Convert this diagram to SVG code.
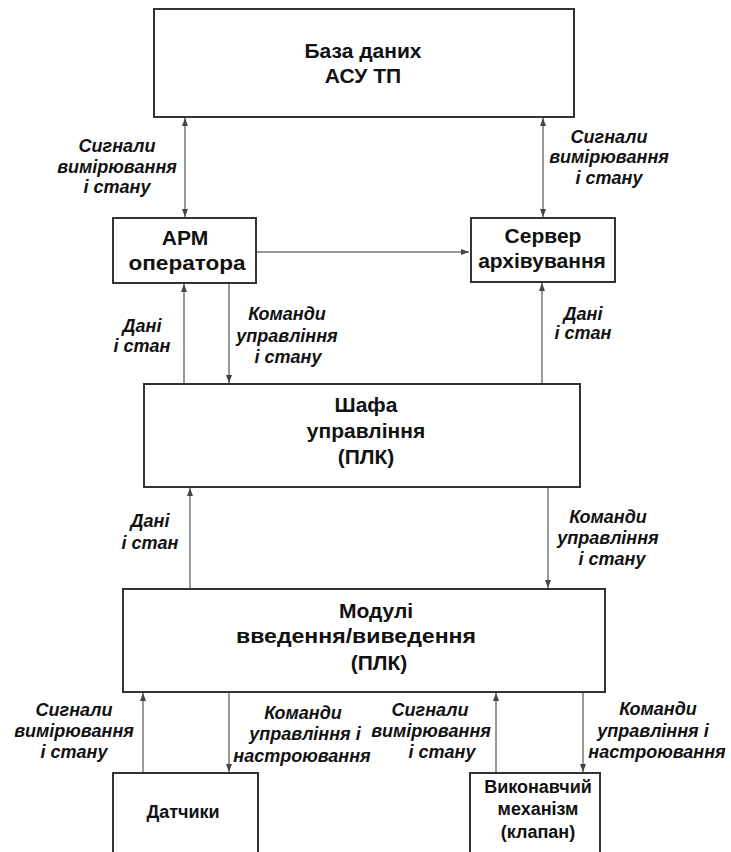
<svg xmlns="http://www.w3.org/2000/svg" width="731" height="852" viewBox="0 0 731 852">
<style>
.box{fill:#fff;stroke:#333;stroke-width:2}
.nt{font-family:"Liberation Sans",Arial,sans-serif;font-weight:bold;font-size:21px;fill:#111;text-anchor:middle}
.ns{font-size:18px}
.lb{font-family:"Liberation Sans",Arial,sans-serif;font-weight:bold;font-style:italic;font-size:18px;fill:#111;text-anchor:middle}
.ln{stroke:#777;stroke-width:1.5;fill:none}
</style>
<defs>
<marker id="ah" markerWidth="8" markerHeight="6" refX="8" refY="3" orient="auto-start-reverse" markerUnits="userSpaceOnUse">
<path d="M0,0 L8,3 L0,6 z" fill="#444"/>
</marker>
</defs>
<rect width="731" height="852" fill="#fff"/>
<g id="connectors">
<line class="ln" x1="185" y1="118" x2="185" y2="217" marker-start="url(#ah)" marker-end="url(#ah)"/>
<line class="ln" x1="543" y1="118" x2="543" y2="217" marker-start="url(#ah)" marker-end="url(#ah)"/>
<line class="ln" x1="257" y1="252" x2="469" y2="252" marker-end="url(#ah)"/>
<line class="ln" x1="184" y1="383" x2="184" y2="284" marker-end="url(#ah)"/>
<line class="ln" x1="229" y1="284" x2="229" y2="383" marker-end="url(#ah)"/>
<line class="ln" x1="542" y1="383" x2="542" y2="283" marker-end="url(#ah)"/>
<line class="ln" x1="190" y1="588" x2="190" y2="488" marker-end="url(#ah)"/>
<line class="ln" x1="548" y1="488" x2="548" y2="588" marker-end="url(#ah)"/>
<line class="ln" x1="143" y1="772" x2="143" y2="693" marker-end="url(#ah)"/>
<line class="ln" x1="229" y1="693" x2="229" y2="772" marker-end="url(#ah)"/>
<line class="ln" x1="496" y1="772" x2="496" y2="693" marker-end="url(#ah)"/>
<line class="ln" x1="583" y1="693" x2="583" y2="772" marker-end="url(#ah)"/>
</g>
<g id="labels">
<text class="lb"><tspan x="117" y="152">Сигнали</tspan><tspan x="117" y="173">вимірювання</tspan><tspan x="117" y="193">і стану</tspan></text>
<text class="lb"><tspan x="609" y="143">Сигнали</tspan><tspan x="609" y="163">вимірювання</tspan><tspan x="609" y="184">і стану</tspan></text>
<text class="lb"><tspan x="142" y="332">Дані</tspan><tspan x="142" y="352">і стан</tspan></text>
<text class="lb"><tspan x="287" y="320">Команди</tspan><tspan x="287" y="342">управління</tspan><tspan x="288" y="363">і стану</tspan></text>
<text class="lb"><tspan x="583" y="320">Дані</tspan><tspan x="583" y="339">і стан</tspan></text>
<text class="lb"><tspan x="150" y="527">Дані</tspan><tspan x="150" y="549">і стан</tspan></text>
<text class="lb"><tspan x="608" y="523">Команди</tspan><tspan x="608" y="544">управління</tspan><tspan x="612" y="565">і стану</tspan></text>
<text class="lb"><tspan x="74" y="716">Сигнали</tspan><tspan x="74" y="737">вимірювання</tspan><tspan x="74" y="758">і стану</tspan></text>
<text class="lb"><tspan x="303" y="719">Команди</tspan><tspan x="305" y="740">управління і</tspan><tspan x="302" y="762">настроювання</tspan></text>
<text class="lb"><tspan x="430" y="716">Сигнали</tspan><tspan x="431" y="737">вимірювання</tspan><tspan x="442" y="758">і стану</tspan></text>
<text class="lb"><tspan x="658" y="715">Команди</tspan><tspan x="653" y="737">управління і</tspan><tspan x="657" y="758">настроювання</tspan></text>
</g>
<g id="db">
<rect class="box" x="154" y="9" width="420" height="108"/>
<text class="nt"><tspan x="363" y="58">База даних</tspan><tspan x="363" y="83">АСУ ТП</tspan></text>
</g>
<g id="arm">
<rect class="box" x="113" y="218" width="143" height="65"/>
<text class="nt"><tspan x="185" y="245">АРМ</tspan><tspan x="187" y="270" textLength="117" lengthAdjust="spacingAndGlyphs">оператора</tspan></text>
</g>
<g id="server">
<rect class="box" x="471" y="218" width="144" height="64"/>
<text class="nt"><tspan x="543" y="243">Сервер</tspan><tspan x="542" y="268">архівування</tspan></text>
</g>
<g id="shafa">
<rect class="box" x="144" y="384" width="436" height="103"/>
<text class="nt"><tspan x="366" y="412">Шафа</tspan><tspan x="366" y="438">управління</tspan><tspan x="366" y="464">(ПЛК)</tspan></text>
</g>
<g id="modul">
<rect class="box" x="123" y="589" width="482" height="103"/>
<text class="nt"><tspan x="376" y="618">Модулі</tspan><tspan x="356" y="643" textLength="240" lengthAdjust="spacingAndGlyphs">введення/виведення</tspan><tspan x="379" y="670">(ПЛК)</tspan></text>
</g>
<g id="sensors">
<rect class="box" x="113" y="773" width="145" height="90"/>
<text class="nt ns"><tspan x="183" y="818">Датчики</tspan></text>
</g>
<g id="actuator">
<rect class="box" x="470" y="773" width="130" height="90"/>
<text class="nt ns"><tspan x="538" y="793">Виконавчий</tspan><tspan x="538" y="815">механізм</tspan><tspan x="538" y="838">(клапан)</tspan></text>
</g>
</svg>
